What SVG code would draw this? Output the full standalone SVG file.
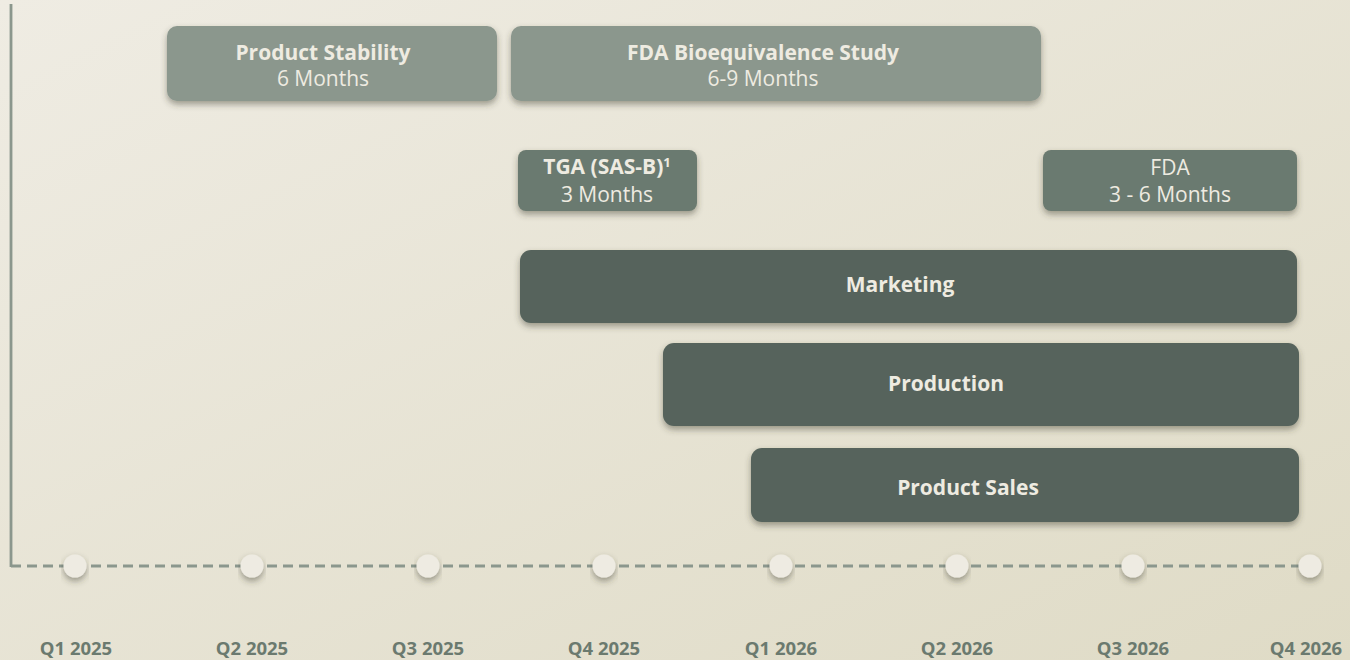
<svg xmlns="http://www.w3.org/2000/svg" width="1350" height="660" viewBox="0 0 1350 660">
  <defs>
    <linearGradient id="bg" x1="0" y1="0" x2="1" y2="1">
      <stop offset="0" stop-color="#efece3"/>
      <stop offset="1" stop-color="#dfdbc6"/>
    </linearGradient>
    <filter id="shadow" x="-10%" y="-20%" width="120%" height="170%">
      <feDropShadow dx="0" dy="3.5" stdDeviation="3" flood-color="#3a3a2a" flood-opacity="0.45"/>
    </filter>
    <style>
      .bar { filter: url(#shadow); }
      .light { fill: #8b978d; }
      .mid { fill: #6b7a6f; }
      .dark { fill: #56645c; }
      .t { font-family: "Open Sans", "Liberation Sans", sans-serif; font-size: 21px; fill: #eeebe1; text-anchor: middle; }
      .b { font-weight: bold; }
      .axis { stroke: #8b978d; stroke-width: 2.8; fill: none; }
      .dot { fill: #eeebe2; filter: url(#shadow); }
      .q { font-family: "Open Sans", "Liberation Sans", sans-serif; font-size: 18.5px; font-weight: bold; fill: #6b7a6f; text-anchor: middle; }
    </style>
  </defs>

  <rect width="1350" height="660" fill="url(#bg)"/>

  <!-- axes -->
  <g id="connectors">
    <line class="axis" x1="11" y1="4" x2="11" y2="567"/>
    <line class="axis" x1="11" y1="566" x2="1310" y2="566" stroke-dasharray="10 6"/>
  </g>

  <!-- quarter markers -->
  <g id="timeline">
    <circle class="dot" cx="75" cy="566" r="11.5"/>
    <circle class="dot" cx="252" cy="566" r="11.5"/>
    <circle class="dot" cx="428" cy="566" r="11.5"/>
    <circle class="dot" cx="604" cy="566" r="11.5"/>
    <circle class="dot" cx="781" cy="566" r="11.5"/>
    <circle class="dot" cx="957" cy="566" r="11.5"/>
    <circle class="dot" cx="1133" cy="566" r="11.5"/>
    <circle class="dot" cx="1310" cy="566" r="11.5"/>
    <text class="q" x="76" y="655">Q1 2025</text>
    <text class="q" x="252" y="655">Q2 2025</text>
    <text class="q" x="428" y="655">Q3 2025</text>
    <text class="q" x="604" y="655">Q4 2025</text>
    <text class="q" x="781" y="655">Q1 2026</text>
    <text class="q" x="957" y="655">Q2 2026</text>
    <text class="q" x="1133" y="655">Q3 2026</text>
    <text class="q" x="1306" y="655">Q4 2026</text>
  </g>

  <g id="product-stability">
    <rect class="bar light" x="167" y="26" width="330" height="75" rx="10"/>
    <text class="t b" x="323" y="60">Product Stability</text>
    <text class="t" x="323" y="86">6 Months</text>
  </g>

  <g id="fda-bioequivalence">
    <rect class="bar light" x="511" y="26" width="530" height="75" rx="10"/>
    <text class="t b" x="763" y="60">FDA Bioequivalence Study</text>
    <text class="t" x="763" y="86">6-9 Months</text>
  </g>

  <g id="tga">
    <rect class="bar mid" x="518" y="150" width="179" height="61" rx="8"/>
    <text class="t b" x="607" y="174">TGA (SAS-B)<tspan font-size="13" dy="-7">1</tspan></text>
    <text class="t" x="607" y="202">3 Months</text>
  </g>

  <g id="fda">
    <rect class="bar mid" x="1043" y="150" width="254" height="61" rx="8"/>
    <text class="t" x="1170" y="175">FDA</text>
    <text class="t" x="1170" y="202">3 - 6 Months</text>
  </g>

  <g id="marketing">
    <rect class="bar dark" x="520" y="250" width="777" height="73" rx="11"/>
    <text class="t b" x="900" y="292">Marketing</text>
  </g>

  <g id="production">
    <rect class="bar dark" x="663" y="343" width="636" height="83" rx="11"/>
    <text class="t b" x="946" y="391">Production</text>
  </g>

  <g id="product-sales">
    <rect class="bar dark" x="751" y="448" width="548" height="74" rx="11"/>
    <text class="t b" x="968" y="495">Product Sales</text>
  </g>
</svg>
